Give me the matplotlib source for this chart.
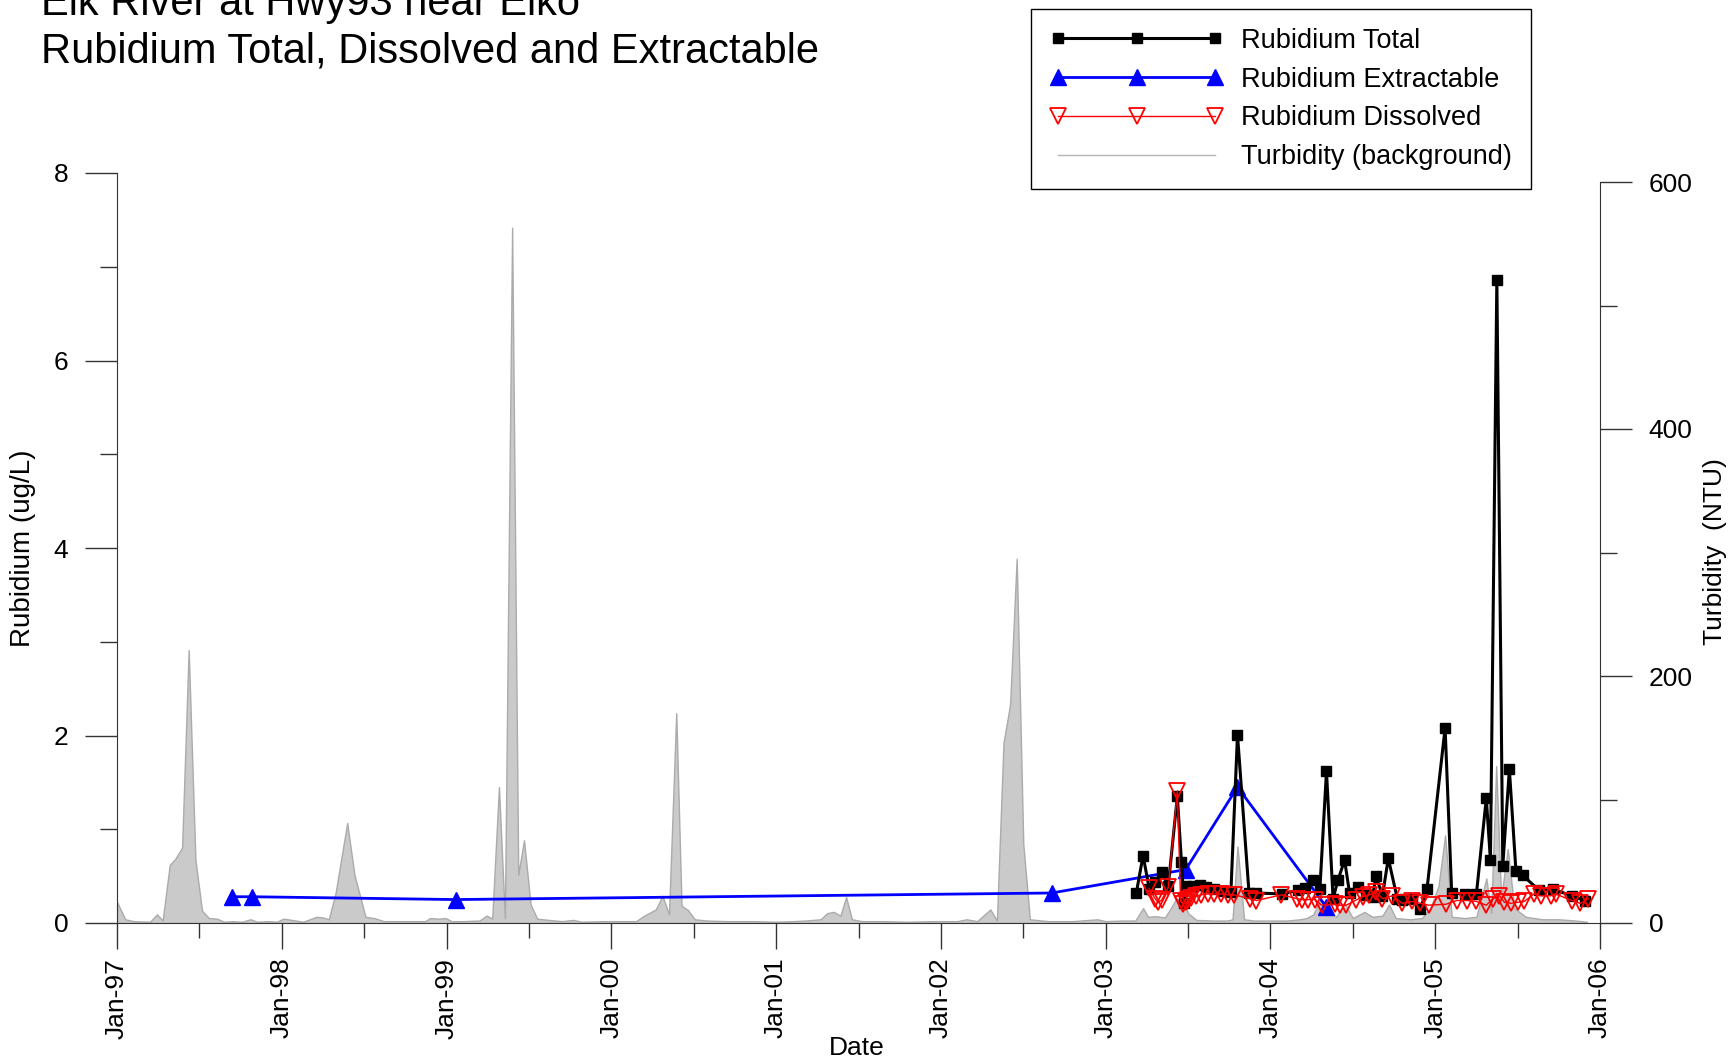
import numpy as np
import matplotlib.pyplot as plt
from matplotlib.lines import Line2D
from matplotlib.ticker import MultipleLocator

plt.rcParams['font.family'] = ['Liberation Sans', 'DejaVu Sans']

# turbidity record (decimal year, NTU)
turb_year = [1997.00, 1997.05, 1997.10, 1997.15, 1997.20, 1997.243, 1997.277, 1997.32, 1997.354, 1997.395,
             1997.435, 1997.476, 1997.516, 1997.557, 1997.607, 1997.65, 1997.70, 1997.76, 1997.81, 1997.85,
             1997.92, 1997.97, 1998.01, 1998.06, 1998.13, 1998.21, 1998.25, 1998.285, 1998.326, 1998.397,
             1998.441, 1998.508, 1998.56, 1998.62, 1998.70, 1998.80, 1998.87, 1998.90, 1998.95, 1998.994,
             1999.03, 1999.10, 1999.20, 1999.243, 1999.277, 1999.318, 1999.354, 1999.398, 1999.435, 1999.47,
             1999.51, 1999.55, 1999.62, 1999.70, 1999.77, 1999.82, 1999.95, 2000.05, 2000.15, 2000.20,
             2000.27, 2000.31, 2000.35, 2000.394, 2000.426, 2000.464, 2000.506, 2000.58, 2000.70, 2000.85,
             2001.00, 2001.10, 2001.18, 2001.27, 2001.31, 2001.35, 2001.39, 2001.425, 2001.46, 2001.52,
             2001.65, 2001.80, 2001.95, 2002.10, 2002.155, 2002.22, 2002.30, 2002.34, 2002.38, 2002.42,
             2002.46, 2002.50, 2002.54, 2002.65, 2002.80, 2002.95, 2003.00, 2003.10, 2003.18, 2003.227,
             2003.257, 2003.30, 2003.36, 2003.40, 2003.43, 2003.48, 2003.50, 2003.55, 2003.65, 2003.74,
             2003.77, 2003.80, 2003.84, 2003.90, 2004.00, 2004.10, 2004.18, 2004.22, 2004.26, 2004.30,
             2004.35, 2004.40, 2004.45, 2004.50, 2004.57, 2004.62, 2004.68, 2004.72, 2004.76, 2004.85,
             2004.92, 2004.97, 2005.02, 2005.06, 2005.10, 2005.18, 2005.25, 2005.31, 2005.34, 2005.37,
             2005.40, 2005.44, 2005.48, 2005.55, 2005.65, 2005.75, 2005.85, 2005.92]
turb_ntu = [17, 3, 1.5, 1.2, 1, 7, 2, 47, 52, 61,
            221, 51, 10, 4, 3.5, 1, 1.5, 1, 3, 1,
            1.5, 1, 3.5, 2.5, 1, 5, 4.5, 3, 24, 81,
            39, 5, 4, 1.5, 1.5, 1.5, 1.5, 4, 3.5, 4,
            1.5, 1.5, 2, 6, 3.5, 110, 4, 563, 39, 67,
            15, 3.5, 2.5, 1.5, 2.5, 1, 1.5, 1.5, 1.5, 6,
            11, 22, 7, 170, 14, 10.6, 3, 2, 1.5, 1.5,
            1, 1.5, 2, 3, 8, 9, 6, 21, 3, 1.5,
            1.5, 1, 1.5, 1.5, 3, 1.5, 11, 2, 146, 177,
            295, 64, 3, 1.5, 1.5, 3, 1.5, 2, 2, 12,
            5, 5.5, 4.5, 13, 20, 15, 8, 2.5, 2, 2,
            3, 62, 3, 2, 2, 2, 3, 4, 7, 18,
            10, 5, 16, 4, 9, 5, 6, 15, 4, 3,
            4, 12, 30, 71, 5, 4, 5, 36, 8, 127,
            20, 60, 12, 5, 3, 3, 2, 1]

# Rubidium total (ug/L)
tot_year = [2003.186, 2003.227, 2003.265, 2003.30, 2003.34, 2003.38, 2003.435, 2003.46, 2003.475, 2003.49,
            2003.53, 2003.57, 2003.61, 2003.66, 2003.71, 2003.76, 2003.80, 2003.87, 2003.915, 2004.07,
            2004.17, 2004.21, 2004.26, 2004.30, 2004.34, 2004.38, 2004.41, 2004.45, 2004.48, 2004.53,
            2004.58, 2004.62, 2004.64, 2004.68, 2004.715, 2004.77, 2004.80, 2004.86, 2004.91, 2004.95,
            2005.06, 2005.10, 2005.18, 2005.25, 2005.31, 2005.335, 2005.374, 2005.41, 2005.45, 2005.49,
            2005.53, 2005.63, 2005.715, 2005.83, 2005.91]
tot_val = [0.32, 0.72, 0.36, 0.44, 0.54, 0.40, 1.35, 0.65, 0.21, 0.40,
           0.39, 0.41, 0.38, 0.36, 0.34, 0.33, 2.01, 0.32, 0.32, 0.31,
           0.35, 0.37, 0.46, 0.36, 1.62, 0.26, 0.46, 0.67, 0.32, 0.38,
           0.30, 0.28, 0.50, 0.29, 0.69, 0.26, 0.25, 0.26, 0.15, 0.36,
           2.08, 0.32, 0.31, 0.31, 1.33, 0.67, 6.86, 0.61, 1.64, 0.55,
           0.51, 0.35, 0.36, 0.29, 0.24]

# Rubidium extractable (ug/L)
ext_year = [1997.70, 1997.82, 1999.055, 2002.672, 2003.486, 2003.80, 2004.34]
ext_val = [0.28, 0.28, 0.25, 0.32, 0.57, 1.45, 0.17]

# Rubidium dissolved (ug/L)
dis_year = [2003.263, 2003.30, 2003.318, 2003.34, 2003.38, 2003.435, 2003.455, 2003.47, 2003.49, 2003.50,
            2003.52, 2003.55, 2003.58, 2003.62, 2003.66, 2003.70, 2003.74, 2003.78, 2003.875, 2003.915,
            2004.067, 2004.16, 2004.19, 2004.23, 2004.27, 2004.31, 2004.39, 2004.42, 2004.46, 2004.52,
            2004.56, 2004.60, 2004.64, 2004.68, 2004.74, 2004.80, 2004.86, 2004.91, 2004.96, 2005.065,
            2005.13, 2005.19, 2005.25, 2005.31, 2005.35, 2005.39, 2005.42, 2005.46, 2005.50, 2005.54,
            2005.60, 2005.64, 2005.70, 2005.73, 2005.83, 2005.88, 2005.93]
dis_val = [0.37, 0.26, 0.22, 0.245, 0.38, 1.41, 0.23, 0.20, 0.22, 0.25,
           0.27, 0.29, 0.30, 0.31, 0.31, 0.31, 0.30, 0.30, 0.26, 0.24,
           0.30, 0.26, 0.25, 0.25, 0.25, 0.19, 0.20, 0.19, 0.19, 0.245,
           0.28, 0.30, 0.33, 0.26, 0.29, 0.21, 0.23, 0.21, 0.19, 0.20,
           0.24, 0.24, 0.23, 0.19, 0.26, 0.29, 0.22, 0.21, 0.22, 0.23,
           0.31, 0.29, 0.29, 0.31, 0.24, 0.21, 0.26]

year_ticks = list(range(1997, 2007))
year_labels = ['Jan-97', 'Jan-98', 'Jan-99', 'Jan-00', 'Jan-01',
               'Jan-02', 'Jan-03', 'Jan-04', 'Jan-05', 'Jan-06']

fig = plt.figure(figsize=(17.32, 10.64), dpi=100)
ax = fig.add_axes([117 / 1732, 1 - 923 / 1064, (1600 - 117) / 1732, (923 - 173) / 1064])
ax2 = ax.twinx()
ax.set_zorder(ax2.get_zorder() + 1)
ax.patch.set_visible(False)

# turbidity as grey background area
ax2.fill_between(turb_year, 0, turb_ntu, facecolor='#cacaca', edgecolor='#ababab', linewidth=1)
ax2.set_ylim(0, 600 * 750 / 741)
ax2.set_yticks([0, 200, 400, 600])
ax2.yaxis.set_minor_locator(MultipleLocator(100))
ax2.spines['right'].set_bounds(0, 600)
for s in ['left', 'top', 'bottom']:
    ax2.spines[s].set_visible(False)

h_ext, = ax.plot(ext_year, ext_val, color='blue', lw=2, marker='^', ms=12)
h_tot, = ax.plot(tot_year, tot_val, color='black', lw=2.2, marker='s', ms=7)
h_dis, = ax.plot(dis_year, dis_val, color='red', lw=1, marker='v', ms=12, mfc='none', mew=1.3)

ax.set_xlim(1997, 2006)
ax.set_ylim(0, 8)
ax.set_xticks(year_ticks)
ax.set_xticklabels(year_labels, rotation=90)
ax.xaxis.set_minor_locator(MultipleLocator(0.5))
ax.set_yticks([0, 2, 4, 6, 8])
ax.yaxis.set_minor_locator(MultipleLocator(1))
ax.spines['top'].set_visible(False)
ax.spines['right'].set_visible(False)

for a in (ax, ax2):
    for s in a.spines.values():
        s.set_color('#333333')
    a.tick_params(which='major', length=23, width=1, color='#333333', labelsize=19)
    a.tick_params(which='minor', length=12, width=1, color='#333333')
ax.tick_params(axis='x', which='major', length=19, pad=6)
ax.tick_params(axis='x', which='minor', length=11)
ax.tick_params(axis='y', pad=12)
ax2.tick_params(axis='y', pad=12)

ax.set_ylabel('Rubidium (ug/L)', fontsize=20)
ax.yaxis.set_label_coords(-0.0546, 0.5)
ax2.set_ylabel('Turbidity  (NTU)', fontsize=19)
ax2.yaxis.set_label_coords((1703 - 117) / 1483, 0.495)
ax.set_xlabel('Date', fontsize=19)
ax.xaxis.set_label_coords(0.499, -0.151)

turb_handle = Line2D([], [], color='#b4b4b4', lw=1)
leg = ax.legend([h_tot, h_ext, h_dis, turb_handle],
                ['Rubidium Total', 'Rubidium Extractable', 'Rubidium Dissolved', 'Turbidity (background)'],
                loc='upper left', bbox_to_anchor=(1031 / 1732, 1 - 9 / 1064), bbox_transform=fig.transFigure,
                fancybox=False, edgecolor='black', framealpha=1, fontsize=19.5, numpoints=3,
                handlelength=6.4, handletextpad=0.66, labelspacing=0.47, borderpad=0.7, borderaxespad=0)
leg.get_frame().set_linewidth(1)

fig.text(41 / 1732, 1 - 15.5 / 1064, 'Elk River at Hwy93 near Elko', fontsize=30, va='baseline')
fig.text(41 / 1732, 1 - 62 / 1064, 'Rubidium Total, Dissolved and Extractable', fontsize=30, va='baseline')

fig.savefig('out.png', dpi=100)
